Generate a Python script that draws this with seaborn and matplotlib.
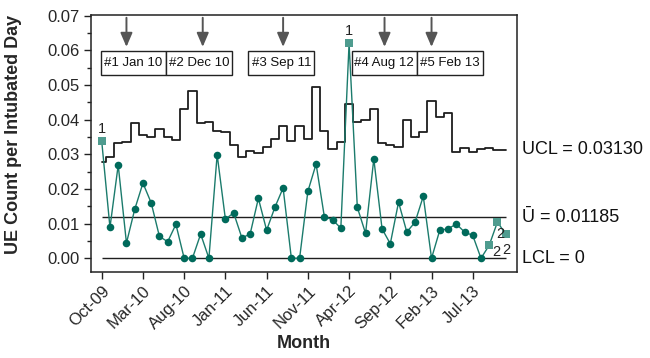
import numpy as np
import pandas as pd
import matplotlib
matplotlib.use("Agg")
import matplotlib.pyplot as plt
from matplotlib.patches import Rectangle
import seaborn as sns

# Monthly unplanned-extubation rate (U chart), Oct 2009 - Nov 2013
months = pd.date_range("2009-10-01", periods=50, freq="MS")
ue_rate = [0.0338, 0.0089, 0.0269, 0.0044, 0.0141, 0.0217, 0.0160, 0.0063, 0.0048, 0.0098,
           0.0000, 0.0000, 0.0070, 0.0000, 0.0299, 0.0113, 0.0131, 0.0059, 0.0070, 0.0173,
           0.0081, 0.0147, 0.0203, 0.0000, 0.0000, 0.0193, 0.0272, 0.0120, 0.0111, 0.0087,
           0.0620, 0.0147, 0.0072, 0.0287, 0.0085, 0.0042, 0.0162, 0.0076, 0.0104, 0.0179,
           0.0000, 0.0081, 0.0085, 0.0099, 0.0076, 0.0066, 0.0000, 0.0038, 0.0105, 0.0069]
ucl = [0.0279, 0.0293, 0.0334, 0.0336, 0.0391, 0.0357, 0.0351, 0.0374, 0.0349, 0.0341,
       0.0430, 0.0482, 0.0390, 0.0392, 0.0368, 0.0364, 0.0327, 0.0292, 0.0310, 0.0304,
       0.0322, 0.0343, 0.0382, 0.0339, 0.0383, 0.0343, 0.0493, 0.0368, 0.0314, 0.0336,
       0.0444, 0.0394, 0.0399, 0.0432, 0.0332, 0.0326, 0.0320, 0.0400, 0.0351, 0.0365,
       0.0455, 0.0409, 0.0420, 0.0308, 0.0317, 0.0306, 0.0315, 0.0318, 0.0312, 0.0313]
ubar = 0.01185
lcl = 0.0

# Points failing a special-cause test, with the test number
flag_idx = [0, 30, 47, 48, 49]
flag_test = ["1", "1", "2", "2", "2"]
# label offsets (points) from each flagged marker
flag_offset = [(0, 9), (0, 9), (5, -5), (2, -8.5), (0.5, -11)]

tick_idx = [0, 5, 10, 15, 20, 25, 30, 35, 40, 45]
tick_labels = ["Oct-09", "Mar-10", "Aug-10", "Jan-11", "Jun-11",
               "Nov-11", "Apr-12", "Sep-12", "Feb-13", "Jul-13"]

interventions = ["#1 Jan 10", "#2 Dec 10", "#3 Sep 11", "#4 Aug 12", "#5 Feb 13"]
box_left = [-0.12, 7.83, 17.8, 30.3, 38.27]
box_width = 7.95
arrow_x = [3.0, 12.25, 22.0, 34.3, 40.0]

df = pd.DataFrame({"idx": np.arange(len(months)), "month": months,
                   "rate": ue_rate, "ucl": ucl})
flags = df.iloc[flag_idx]
normal = df.drop(index=flag_idx)

sns.set_theme(style="ticks")
plt.rcParams["font.family"] = ["Liberation Sans", "DejaVu Sans"]

line_col = "#1b7b6c"
dot_col = "#006a5b"
sq_col = "#4f9c8f"

fig = plt.figure(figsize=(6.5, 3.58), dpi=100)
ax = fig.add_axes([91 / 650, 1 - 272 / 358, (516.7 - 91) / 650, (272 - 15) / 358])

# Control limits
sns.lineplot(data=df, x="idx", y="ucl", drawstyle="steps-mid", color="#1e1e1e",
             lw=1.3, ax=ax, zorder=2)
ax.hlines([ubar, lcl], 0, len(df) - 1, color="#1e1e1e", lw=1.0, zorder=2)

# Rate series
sns.lineplot(data=df, x="idx", y="rate", color=line_col, lw=1.0, ax=ax, zorder=3)
sns.scatterplot(data=normal, x="idx", y="rate", color=dot_col, s=30, marker="o",
                edgecolor=dot_col, linewidth=0, ax=ax, zorder=4)
sns.scatterplot(data=flags, x="idx", y="rate", color=sq_col, s=34, marker="s",
                edgecolor=sq_col, linewidth=0, ax=ax, zorder=4)

for (_, r), t, off in zip(flags.iterrows(), flag_test, flag_offset):
    ax.annotate(t, (r["idx"], r["rate"]), xytext=off, textcoords="offset points",
                ha="center", va="center", fontsize=10.5, color="#222222", zorder=6)

# Intervention markers
for x in arrow_x:
    ax.annotate("", xy=(x, 0.0610), xytext=(x, 0.0694),
                arrowprops=dict(arrowstyle="-|>,head_length=0.7,head_width=0.3",
                                color="#555555", lw=1.4, shrinkA=0, shrinkB=0))
for left, label in zip(box_left, interventions):
    ax.add_patch(Rectangle((left, 0.0529), box_width, 0.0070, facecolor="white",
                           edgecolor="#222222", lw=1.0, zorder=5))
    ax.text(left + box_width / 2, 0.0564, label, ha="center", va="center",
            fontsize=9.5, color="#111111", zorder=6)

# Limit labels on the right
tr = ax.get_yaxis_transform()
ax.text(1.013, ucl[-1], f"UCL = {ucl[-1]:.5f}", transform=tr, ha="left", va="center",
        fontsize=13, color="#111111")
ax.text(1.013, ubar, f"\u016a = {ubar:.5f}", transform=tr, ha="left", va="center",
        fontsize=13, color="#111111")
ax.text(1.013, lcl, f"LCL = {lcl:g}", transform=tr, ha="left", va="center",
        fontsize=13, color="#111111")

ax.set_xlim(-1.3, 50.33)
ax.set_ylim(-0.00395, 0.0702)
ax.set_xticks(tick_idx)
ax.set_xticklabels(tick_labels, rotation=45, ha="right", rotation_mode="anchor",
                   fontsize=12)
ax.set_yticks(np.arange(0, 0.0701, 0.01))
ax.set_yticks(np.arange(0.005, 0.07, 0.01), minor=True)
ax.set_yticklabels([f"{v:.2f}" for v in np.arange(0, 0.0701, 0.01)], fontsize=12)
ax.tick_params(axis="both", which="major", direction="out", length=5, width=1.0,
               color="#222222", pad=3)
ax.tick_params(axis="y", which="minor", direction="out", length=3, width=1.0,
               color="#222222")
for s in ax.spines.values():
    s.set_color("#222222")
    s.set_linewidth(1.1)

ax.set_xlabel("Month", fontsize=13, fontweight="bold", labelpad=2)
ax.set_ylabel("UE Count per Intubated Day", fontsize=13, fontweight="bold")
ax.yaxis.set_label_coords(-0.163, 0.537)

fig.savefig("out.png", dpi=100)
